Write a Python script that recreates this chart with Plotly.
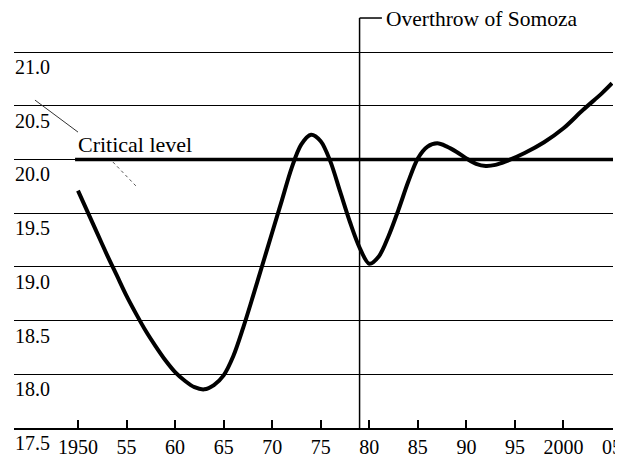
import plotly.graph_objects as go

# ---- data ----
years = [1950, 1951, 1952, 1953, 1954, 1955, 1956, 1957, 1958, 1959,
         1960, 1961, 1962, 1963, 1964, 1965, 1966, 1967, 1968, 1969,
         1970, 1971, 1972, 1973, 1974, 1975, 1976, 1977, 1978, 1979,
         1980, 1981, 1982, 1983, 1984, 1985, 1986, 1987, 1988, 1989,
         1990, 1991, 1992, 1993, 1994, 1996, 1998, 2000, 2002, 2004, 2005]
values = [19.71, 19.51, 19.31, 19.11, 18.92, 18.73, 18.56, 18.40, 18.26, 18.13,
          18.02, 17.94, 17.88, 17.86, 17.90, 17.99, 18.17, 18.43, 18.72, 19.02,
          19.32, 19.62, 19.92, 20.14, 20.23, 20.17, 19.98, 19.70, 19.42, 19.18,
          19.03, 19.10, 19.29, 19.53, 19.79, 20.01, 20.12, 20.15, 20.12, 20.07,
          20.01, 19.96, 19.94, 19.95, 19.98, 20.06, 20.16, 20.29, 20.46, 20.62, 20.71]

x_tickvals = [1950, 1955, 1960, 1965, 1970, 1975, 1980, 1985, 1990, 1995, 2000, 2005]
x_ticktext = ["1950", "55", "60", "65", "70", "75", "80", "85", "90", "95", "2000", "05"]
y_gridvals = [18.0, 18.5, 19.0, 19.5, 20.0, 20.5, 21.0]
y_labelvals = [17.5, 18.0, 18.5, 19.0, 19.5, 20.0, 20.5, 21.0]
y_labeltext = ["17.5", "18.0", "18.5", "19.0", "19.5", "20.0", "20.5", "21.0"]

critical_level = 20.0
critical_start = 1949.7
somoza_year = 1979
somoza_text = "Overthrow of Somoza"
critical_text = "Critical level"

FONT = "Liberation Serif"

fig = go.Figure()
fig.add_trace(go.Scatter(
    x=years, y=values, mode="lines",
    line=dict(color="black", width=4, shape="spline", smoothing=0.9),
    hoverinfo="skip", showlegend=False))

shapes = []
# thick critical level line
shapes.append(dict(type="line", xref="x", yref="y", x0=critical_start, x1=2005.1,
                   y0=critical_level, y1=critical_level,
                   line=dict(color="black", width=3.5)))
# Somoza marker
top = 1.0875
shapes.append(dict(type="line", xref="x", yref="paper", x0=somoza_year, x1=somoza_year,
                   y0=0, y1=top, line=dict(color="black", width=1.5)))
shapes.append(dict(type="line", xref="x", yref="paper", x0=somoza_year, x1=1981.3,
                   y0=top, y1=top, line=dict(color="black", width=1.5)))
# faint leader line near the critical-level label
shapes.append(dict(type="line", xref="x", yref="y", x0=1945.57, y0=20.553, x1=1950.0, y1=20.255,
                   line=dict(color="#333", width=1)))
shapes.append(dict(type="line", xref="x", yref="y", x0=1953.6, y0=19.976, x1=1956.08, y1=19.743,
                   line=dict(color="#555", width=1, dash="dot")))

annotations = []
for v, t in zip(y_labelvals, y_labeltext):
    annotations.append(dict(x=0, xref="paper", y=v, yref="y", text=t, showarrow=False,
                            xanchor="left", yanchor="middle", yshift=-15, xshift=-1,
                            font=dict(family=FONT, size=20, color="black")))
annotations.append(dict(x=critical_start + 0.1, xref="x", y=20.14, yref="y", text=critical_text,
                        showarrow=False, xanchor="left", yanchor="middle",
                        font=dict(family=FONT, size=22, color="black")))
annotations.append(dict(x=1981.5, xref="x", y=top, yref="paper", text=somoza_text,
                        showarrow=False, xanchor="left", yanchor="middle", yshift=-1,
                        font=dict(family=FONT, size=21.5, color="black")))

# the page body adds an 8px offset; the figure is sized to fill the window from there
fig.update_layout(
    width=615, height=449,
    margin=dict(l=6, r=10, t=43, b=29, autoexpand=False),
    paper_bgcolor="white", plot_bgcolor="white",
    shapes=shapes, annotations=annotations,
    xaxis=dict(range=[1943.41, 2005.1], tickvals=x_tickvals, ticktext=x_ticktext,
               ticks="inside", ticklen=8, tickwidth=1.5, tickcolor="black",
               showline=True, linecolor="black", linewidth=1.5,
               showgrid=False, zeroline=False, automargin=False,
               tickfont=dict(family=FONT, size=20, color="black")),
    yaxis=dict(range=[17.5, 21.01], tickvals=y_gridvals, showticklabels=False,
               showgrid=True, gridcolor="black", gridwidth=1.3, automargin=False,
               showline=False, zeroline=False, ticks=""),
)

fig.write_html("out.html")
